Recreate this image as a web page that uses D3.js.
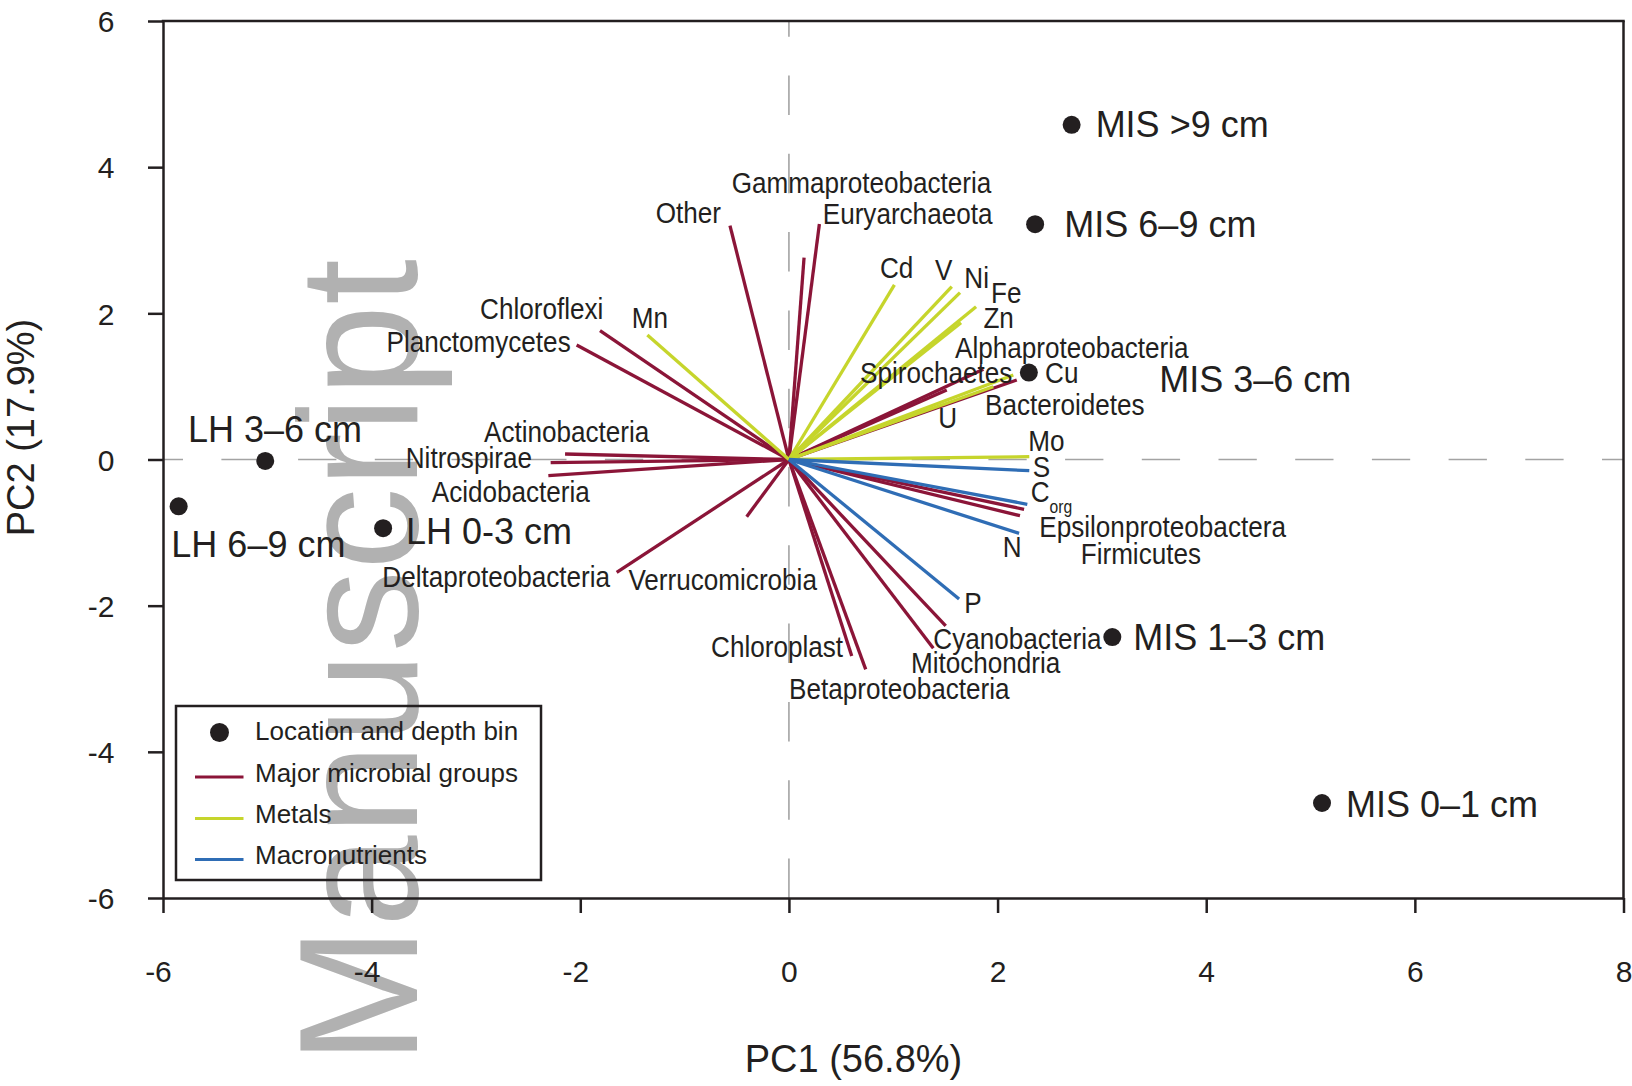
<!DOCTYPE html>
<html>
<head>
<meta charset="utf-8">
<script src="https://cdn.jsdelivr.net/npm/d3@7"></script>
<style>
  html, body { margin: 0; padding: 0; background: #ffffff; }
  svg { display: block; font-family: Arial, "Liberation Sans", Helvetica, sans-serif; }
</style>
</head>
<body>
<svg id="chart" width="1632" height="1086"></svg>
<script>
// ---- PCA biplot data (PC1 / PC2 scores) ----

// Sample scores: location and depth bin
const sampleNames = ["LH 3\u20136 cm", "LH 6\u20139 cm", "LH 0-3 cm", "MIS >9 cm", "MIS 6\u20139 cm", "MIS 3\u20136 cm", "MIS 1\u20133 cm", "MIS 0\u20131 cm"];
const samplePC1 = [-5.02, -5.85, -3.89, 2.71, 2.36, 2.30, 3.10, 5.11];
const samplePC2 = [-0.02, -0.64, -0.94, 4.58, 3.22, 1.19, -2.43, -4.70];
// where each sample name sits (text start, baseline) in PC units
const sampleLabelPC1 = [-5.76, -5.92, -3.67, 2.94, 2.64, 3.55, 3.30, 5.34];
const sampleLabelPC2 = [0.24, -1.34, -1.15, 4.41, 3.04, 0.93, -2.61, -4.89];

// Loadings: major microbial groups
const microbeNames = ["Other", "Gammaproteobacteria", "Euryarchaeota", "Chloroflexi", "Planctomycetes", "Actinobacteria", "Nitrospirae", "Acidobacteria", "Deltaproteobacteria", "Verrucomicrobia", "Chloroplast", "Betaproteobacteria", "Mitochondria", "Cyanobacteria", "Epsilonproteobactera", "Firmicutes", "Alphaproteobacteria", "Spirochaetes", "Bacteroidetes"];
const microbePC1 = [-0.565, 0.145, 0.292, -1.811, -2.035, -2.146, -2.284, -2.306, -1.651, -0.405, 0.602, 0.736, 1.384, 1.503, 2.254, 2.215, 1.864, 1.513, 2.184];
const microbePC2 = [3.199, 2.762, 3.222, 1.762, 1.567, 0.075, -0.043, -0.221, -1.544, -0.782, -2.689, -2.871, -2.583, -2.278, -0.681, -0.769, 1.234, 0.951, 1.088];
const microbeLabelPC1 = [-0.652, -0.548, 0.324, -1.779, -2.092, -2.923, -3.673, -3.424, -1.715, -1.539, 0.519, 0.001, 1.170, 1.384, 2.400, 2.797, 1.592, 0.682, 1.880];
const microbeLabelPC2 = [3.240, 3.643, 3.222, 1.918, 1.475, 0.235, -0.120, -0.577, -1.741, -1.786, -2.707, -3.281, -2.926, -2.597, -1.056, -1.430, 1.385, 1.051, 0.609];
const microbeLabelAnchor = ["end", "start", "start", "end", "end", "start", "start", "start", "end", "start", "end", "start", "start", "start", "start", "start", "start", "start", "start"];

// Loadings: metals
const metalNames = ["Mn", "Cd", "V", "Ni", "Fe", "Zn", "Cu", "U", "Mo"];
const metalPC1 = [-1.357, 1.011, 1.561, 1.640, 1.794, 1.650, 2.151, 1.959, 2.304];
const metalPC2 = [1.704, 2.388, 2.365, 2.283, 2.091, 1.872, 1.156, 0.996, 0.038];
const metalLabelPC1 = [-1.507, 0.873, 1.401, 1.681, 1.937, 1.864, 2.455, 1.432, 2.295];
const metalLabelPC2 = [1.795, 2.479, 2.456, 2.343, 2.137, 1.795, 1.043, 0.427, 0.120];

// Loadings: macronutrients
const nutrientNames = ["S", "Corg", "N", "P"];
const nutrientPC1 = [2.304, 2.285, 2.206, 1.631];
const nutrientPC2 = [-0.153, -0.613, -1.010, -1.909];
const nutrientLabelPC1 = [2.337, 2.318, 2.049, 1.681];
const nutrientLabelPC2 = [-0.244, -0.577, -1.338, -2.105];

// Axes
const xTicks = [-6, -4, -2, 0, 2, 4, 6, 8];
const xTickLabels = ["-6", "-4", "-2", "0", "2", "4", "6", "8"];
const yTicks = [-6, -4, -2, 0, 2, 4, 6];
const yTickLabels = ["-6", "-4", "-2", "0", "2", "4", "6"];
const xTitle = "PC1 (56.8%)";
const yTitle = "PC2 (17.9%)";

// Legend
const legendLabels = ["Location and depth bin", "Major microbial groups", "Metals", "Macronutrients"];

// ---- drawing ----
const ink = "#231f20";
const colMicrobe = "#8b1538";
const colMetal = "#c6d52c";
const colNutrient = "#2f6db5";

const plot = { left: 163, right: 1623.5, top: 21, bottom: 898 };
const x = d3.scaleLinear().domain([-6, 8]).range([plot.left, plot.right]);
const y = d3.scaleLinear().domain([-6, 6]).range([plot.bottom, plot.top]);

const svg = d3.select("#chart");

// background stamp
svg.append("text")
  .attr("transform", "translate(417,1064) rotate(-90)")
  .attr("font-size", 168)
  .attr("fill", "#b1b1b1")
  .attr("textLength", 805)
  .attr("lengthAdjust", "spacingAndGlyphs")
  .text("Manuscript");

// dashed zero lines
svg.append("line")
  .attr("x1", x(-6)).attr("x2", x(8))
  .attr("y1", y(0)).attr("y2", y(0))
  .attr("stroke", "#a3a3a3").attr("stroke-width", 1.6)
  .attr("stroke-dasharray", "38.3,38.4").attr("stroke-dashoffset", 18.3);
svg.append("line")
  .attr("x1", x(0)).attr("x2", x(0))
  .attr("y1", y(-6)).attr("y2", y(6))
  .attr("stroke", "#a3a3a3").attr("stroke-width", 1.6)
  .attr("stroke-dasharray", "39.5,38.8");

// loading vectors
function zipVectors(names, pc1, pc2, lx, ly, anchors) {
  return names.map((n, i) => ({
    name: n, pc1: pc1[i], pc2: pc2[i], lx: lx[i], ly: ly[i],
    anchor: anchors ? anchors[i] : "start"
  }));
}
const microbes = zipVectors(microbeNames, microbePC1, microbePC2, microbeLabelPC1, microbeLabelPC2, microbeLabelAnchor);
const metals = zipVectors(metalNames, metalPC1, metalPC2, metalLabelPC1, metalLabelPC2);
const nutrients = zipVectors(nutrientNames, nutrientPC1, nutrientPC2, nutrientLabelPC1, nutrientLabelPC2);

function drawVectors(data, color) {
  svg.append("g").selectAll("line").data(data).join("line")
    .attr("x1", x(0)).attr("y1", y(0))
    .attr("x2", d => x(d.pc1)).attr("y2", d => y(d.pc2))
    .attr("stroke", color).attr("stroke-width", 3.3);
}
drawVectors(microbes, colMicrobe);
drawVectors(metals, colMetal);
drawVectors(nutrients, colNutrient);

// loading labels (narrow lettering)
const narrow = 0.87;
function drawVectorLabels(data) {
  const t = svg.append("g").selectAll("text").data(data).join("text")
    .attr("transform", d => `translate(${x(d.lx)},${y(d.ly)}) scale(${narrow},1)`)
    .attr("text-anchor", d => d.anchor)
    .attr("font-size", 30)
    .attr("fill", ink);
  t.each(function (d) {
    const el = d3.select(this);
    if (d.name === "Corg") {
      el.append("tspan").text("C");
      el.append("tspan").attr("font-size", 18).attr("dy", 11).text("org");
    } else {
      el.text(d.name);
    }
  });
}
drawVectorLabels(microbes);
drawVectorLabels(metals);
drawVectorLabels(nutrients);

// sample scores
const samples = sampleNames.map((n, i) => ({ name: n, pc1: samplePC1[i], pc2: samplePC2[i], lx: sampleLabelPC1[i], ly: sampleLabelPC2[i] }));
svg.append("g").selectAll("circle").data(samples).join("circle")
  .attr("cx", d => x(d.pc1)).attr("cy", d => y(d.pc2)).attr("r", 9)
  .attr("fill", ink);
svg.append("g").selectAll("text").data(samples).join("text")
  .attr("x", d => x(d.lx)).attr("y", d => y(d.ly))
  .attr("font-size", 36).attr("fill", ink)
  .text(d => d.name);

// axes and frame
const xAxis = d3.axisBottom(x).tickValues(xTicks).tickSize(15).tickSizeOuter(0)
  .tickFormat((d, i) => xTickLabels[i]);
const gx = svg.append("g").attr("transform", `translate(0,${plot.bottom})`).call(xAxis)
  .attr("font-size", 30).attr("font-family", null);
gx.select(".domain").attr("stroke", ink).attr("stroke-width", 2.5);
gx.selectAll(".tick line").attr("stroke", ink).attr("stroke-width", 2.5);
gx.selectAll(".tick text").attr("y", 84).attr("dy", 0).attr("x", 8.3)
  .attr("text-anchor", "end").attr("fill", ink);

const yAxis = d3.axisLeft(y).tickValues(yTicks).tickSize(15).tickPadding(33.5).tickSizeOuter(0)
  .tickFormat((d, i) => yTickLabels[i]);
const gy = svg.append("g").attr("transform", `translate(${plot.left},0)`).call(yAxis)
  .attr("font-size", 30).attr("font-family", null);
gy.select(".domain").attr("stroke", ink).attr("stroke-width", 2.5);
gy.selectAll(".tick line").attr("stroke", ink).attr("stroke-width", 2.5);
gy.selectAll(".tick text").attr("dy", "0.36em").attr("fill", ink);

svg.append("line").attr("x1", plot.left - 1.25).attr("x2", plot.right + 1.25)
  .attr("y1", plot.top).attr("y2", plot.top).attr("stroke", ink).attr("stroke-width", 2.5);
svg.append("line").attr("x1", plot.right).attr("x2", plot.right)
  .attr("y1", plot.top).attr("y2", plot.bottom + 1.25).attr("stroke", ink).attr("stroke-width", 2.5);

// axis titles
svg.append("text").attr("x", 853.5).attr("y", 1071.5)
  .attr("text-anchor", "middle").attr("font-size", 38).attr("fill", ink).text(xTitle);
svg.append("text").attr("transform", "translate(33.5,427.5) rotate(-90)")
  .attr("text-anchor", "middle").attr("font-size", 38).attr("fill", ink).text(yTitle);

// legend
const lg = svg.append("g").attr("transform", `translate(${plot.left + 13},${plot.bottom - 192})`);
lg.append("rect").attr("x", 0).attr("y", 0).attr("width", 365).attr("height", 174)
  .attr("fill", "none").attr("stroke", ink).attr("stroke-width", 2.5);
const rowY = [34, 75.5, 117, 158];
const legendKinds = ["dot", colMicrobe, colMetal, colNutrient];
legendLabels.forEach((lab, i) => {
  if (legendKinds[i] === "dot") {
    lg.append("circle").attr("cx", 43.5).attr("cy", rowY[i] - 7.5).attr("r", 9.5).attr("fill", ink);
  } else {
    lg.append("line").attr("x1", 19).attr("x2", 67.5)
      .attr("y1", rowY[i] - 4.5).attr("y2", rowY[i] - 4.5)
      .attr("stroke", legendKinds[i]).attr("stroke-width", 3);
  }
  lg.append("text").attr("x", 79).attr("y", rowY[i]).attr("font-size", 26).attr("fill", ink).text(lab);
});
</script>
</body>
</html>
